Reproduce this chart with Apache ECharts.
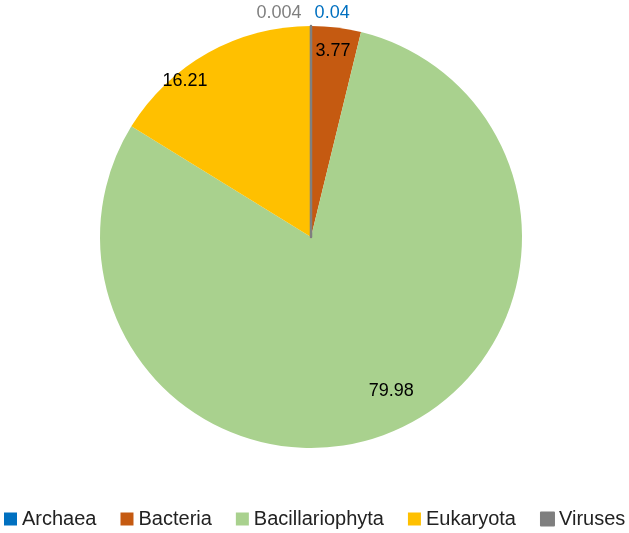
<!DOCTYPE html>
<html><head><meta charset="utf-8">
<script src="https://cdn.jsdelivr.net/npm/echarts@6/dist/echarts.min.js"></script>
<style>html,body{margin:0;padding:0;background:#fff}#c{width:629px;height:533px}</style>
</head><body><div id="c"></div>
<script>
const categories = ['Archaea', 'Bacteria', 'Bacillariophyta', 'Eukaryota', 'Viruses'];
const values = [0.04, 3.77, 79.98, 16.21, 0.004];
const labels = ['0.04', '3.77', '79.98', '16.21', '0.004'];

const colors = ['#0070C0', '#C55A11', '#A9D18E', '#FFC000', '#7F7F7F'];
const labelColors = ['#0070C0', '#000', '#000', '#000', '#7F7F7F'];
const labelOffsets = [[21, -115.5], [9, -78], [39, 54], [-73, -61], [-32, -115.5]];
const FONT = 'Liberation Sans';

const data = categories.map((c, i) => ({
  name: c,
  value: values[i],
  itemStyle: i === 4 ? { color: colors[i], borderColor: colors[i], borderWidth: 2.5 } : { color: colors[i] },
  label: { color: labelColors[i], offset: labelOffsets[i] }
}));

const chart = echarts.init(document.getElementById('c'));
chart.setOption({
  animation: false,
  legend: {
    bottom: 4, left: 4, width: 625, padding: 0,
    itemWidth: 13, itemHeight: 13, itemGap: 24,
    icon: 'rect',
    textStyle: { fontFamily: FONT, fontSize: 20, color: '#222' },
    data: categories
  },
  series: [{
    type: 'pie',
    center: [311, 237],
    radius: 211,
    startAngle: 90,
    clockwise: true,
    avoidLabelOverlap: false,
    label: {
      show: true, position: 'inside',
      fontFamily: FONT, fontSize: 18,
      formatter: p => labels[p.dataIndex]
    },
    labelLine: { show: false },
    emphasis: { disabled: true },
    data: data
  }]
});
</script></body></html>
